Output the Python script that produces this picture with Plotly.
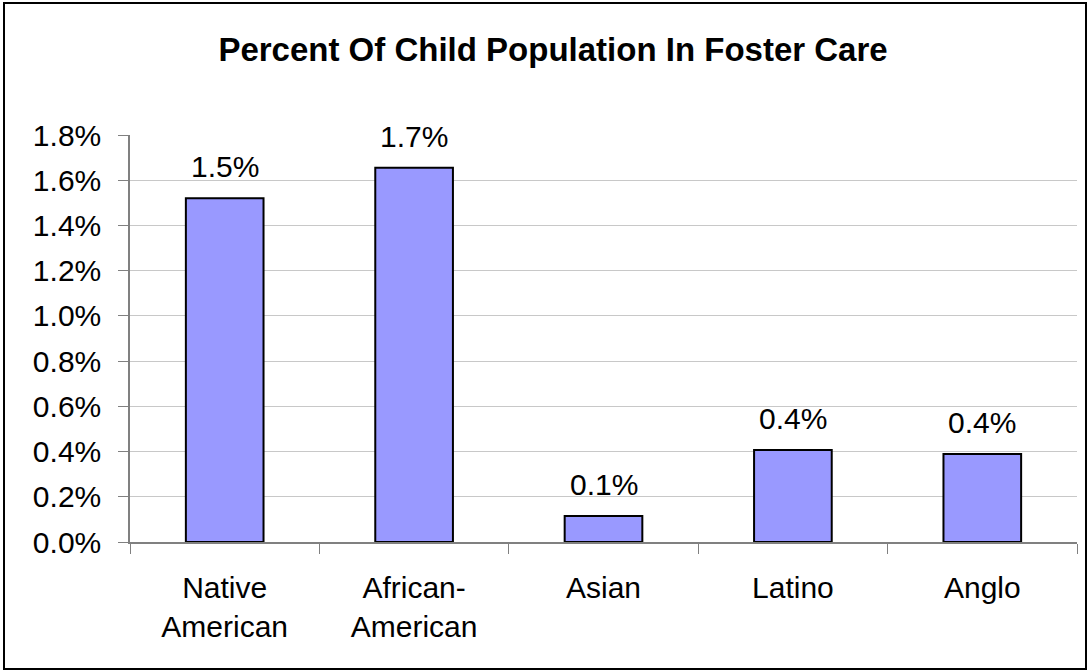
import plotly.graph_objects as go

categories = ["Native<br>American", "African-<br>American", "Asian", "Latino", "Anglo"]
values = [1.52, 1.655, 0.115, 0.407, 0.389]
labels = ["1.5%", "1.7%", "0.1%", "0.4%", "0.4%"]
y_ticks = [0.0, 0.2, 0.4, 0.6, 0.8, 1.0, 1.2, 1.4, 1.6, 1.8]
y_ticktext = ["0.0%", "0.2%", "0.4%", "0.6%", "0.8%", "1.0%", "1.2%", "1.4%", "1.6%", "1.8%"]

FONT = "Liberation Sans, Arial, sans-serif"
FS = 30

fig = go.Figure()
fig.add_trace(go.Bar(
    x=categories, y=values,
    marker=dict(color="#9999FF", line=dict(color="#000000", width=2)),
    width=0.41,
    hoverinfo="skip",
))

for c, v, t in zip(categories, values, labels):
    fig.add_annotation(x=c, y=v, text=t, showarrow=False, yanchor="bottom",
                       yshift=13, font=dict(family=FONT, size=FS, color="#000000"))

L, R, T, B = 130, 13, 135, 130
W, H = 1090, 672
pw, ph = W - L - R, H - T - B

# outer border
fig.add_shape(type="rect", xref="paper", yref="paper",
              x0=(4 - L) / pw, x1=(1086 - L) / pw,
              y0=(H - B - 669) / ph, y1=(H - B - 3) / ph,
              line=dict(color="#000000", width=2), fillcolor="rgba(0,0,0,0)", layer="above")

fig.update_layout(
    width=W, height=H,
    margin=dict(l=L, r=R, t=T, b=B),
    paper_bgcolor="white", plot_bgcolor="white",
    showlegend=False,
    title=dict(text="<b>Percent Of Child Population In Foster Care</b>",
               x=(553) / W, xanchor="center", y=1 - 49 / H, yanchor="middle",
               font=dict(family=FONT, size=33, color="#000000")),
    font=dict(family=FONT, size=FS, color="#000000"),
    bargap=0.59,
)
fig.update_xaxes(
    showline=True, linecolor="#808080", linewidth=1.5,
    ticks="outside", tickson="boundaries", ticklen=10, tickcolor="#808080",
    tickfont=dict(family=FONT, size=FS, color="#000000"),
    ticklabelstandoff=18,
    showgrid=False,
    mirror=False,
)
fig.update_yaxes(
    range=[0, 1.8], tickvals=y_ticks, ticktext=y_ticktext,
    showline=True, linecolor="#808080", linewidth=1.5,
    ticks="outside", ticklen=10, tickcolor="#808080",
    tickfont=dict(family=FONT, size=FS, color="#000000"),
    ticklabelstandoff=11,
    showgrid=True, gridcolor="#C8C8C8", gridwidth=1,
    zeroline=False,
)

fig.write_html("out.html")
